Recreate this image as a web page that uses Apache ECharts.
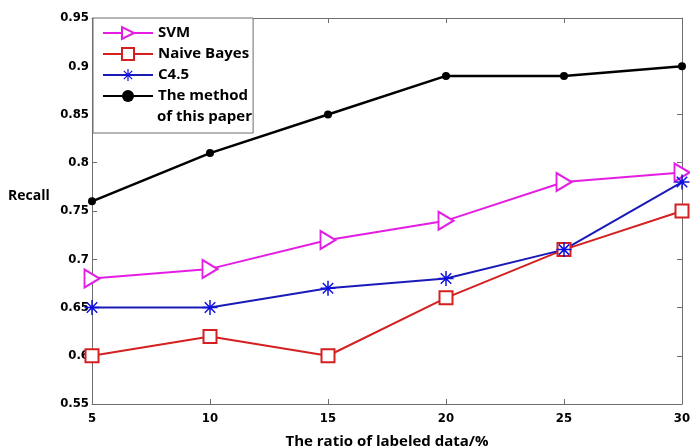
<!DOCTYPE html>
<html><head><meta charset="utf-8">
<script src="https://cdn.jsdelivr.net/npm/echarts@6/dist/echarts.min.js"></script>
<style>html,body{margin:0;padding:0;background:#fff}#c{width:690px;height:448px}</style>
</head><body><div id="c"></div>
<script>
const xValues = [5, 10, 15, 20, 25, 30];
const svm = [0.68, 0.69, 0.72, 0.74, 0.78, 0.79];
const naiveBayes = [0.60, 0.62, 0.60, 0.66, 0.71, 0.75];
const c45 = [0.65, 0.65, 0.67, 0.68, 0.71, 0.78];
const method = [0.76, 0.81, 0.85, 0.89, 0.89, 0.90];
const seriesNames = ['SVM', 'Naive Bayes', 'C4.5', 'The method\nof this paper'];

const asterisk = 'path://M-1,-10L1,-10L1,10L-1,10ZM-10,-1L10,-1L10,1L-10,1ZM-6.3,-7.7L7.7,6.3L6.3,7.7L-7.7,-6.3ZM6.3,-7.7L7.7,-6.3L-6.3,7.7L-7.7,6.3Z';
const pair = arr => xValues.map((x, i) => [x, arr[i]]);
const tickFont = {fontFamily: 'DejaVu Sans Condensed', fontWeight: 'bold', fontSize: 13, color: '#000'};
const legendFont = {fontFamily: 'Open Sans', fontWeight: 'bold', fontSize: 15, color: '#000'};
const axisColor = '#6e6e6e';
const axisLine = {show: true, lineStyle: {color: axisColor, width: 1}};
const tick = {inside: true, length: 5, lineStyle: {color: axisColor}};

const chart = echarts.init(document.getElementById('c'));
chart.setOption({
  animation: false,
  backgroundColor: '#fff',
  grid: {left: 92, right: 8, top: 18, bottom: 44, outerBoundsMode: 'none', containLabel: false},
  title: {text: 'Recall', left: 3, top: 184, textStyle: {fontFamily: 'Open Sans', fontWeight: 'bold', fontSize: 14, color: '#000'}},
  legend: {
    orient: 'vertical', left: 93, top: 18,
    backgroundColor: '#fff', borderColor: axisColor, borderWidth: 1,
    padding: [5, 4, 27, 9], itemGap: 1, itemWidth: 50, itemHeight: 15,
    textStyle: Object.assign({lineHeight: 20}, legendFont),
    formatter: name => name.split('\n')[0],
    data: seriesNames
  },
  graphic: [{
    type: 'text', left: 157, top: 107, z: 100,
    style: Object.assign({text: seriesNames[3].split('\n')[1], lineHeight: 20}, legendFont, {fill: '#000'})
  }],
  xAxis: [{
    type: 'value', min: 5, max: 30, interval: 5,
    name: 'The ratio of labeled data/%', nameLocation: 'middle', nameGap: 30,
    nameTextStyle: {fontFamily: 'Open Sans', fontWeight: 'bold', fontSize: 15, color: '#000'},
    axisLine: axisLine, axisTick: tick,
    axisLabel: Object.assign({margin: 8}, tickFont), splitLine: {show: false}
  }, {
    type: 'value', position: 'top', min: 5, max: 30, interval: 5,
    axisLine: axisLine, axisTick: tick, axisLabel: {show: false}, splitLine: {show: false}
  }],
  yAxis: [{
    type: 'value', min: 0.55, max: 0.95, interval: 0.05,
    axisLine: axisLine, axisTick: tick,
    axisLabel: Object.assign({margin: 3, formatter: v => String(+v.toFixed(2))}, tickFont),
    splitLine: {show: false}
  }, {
    type: 'value', position: 'right', min: 0.55, max: 0.95, interval: 0.05,
    axisLine: axisLine, axisTick: tick, axisLabel: {show: false}, splitLine: {show: false}
  }],
  series: [
    {name: seriesNames[0], type: 'line', data: pair(svm), symbol: 'emptyTriangle', symbolSize: [18, 15], symbolRotate: -90,
     lineStyle: {color: '#e31de3', width: 2}, itemStyle: {color: '#e31de3', borderColor: '#e31de3', borderWidth: 2}},
    {name: seriesNames[1], type: 'line', data: pair(naiveBayes), symbol: 'emptyRect', symbolSize: 13,
     lineStyle: {color: '#d42020', width: 2}, itemStyle: {color: '#d42020', borderColor: '#d42020', borderWidth: 2}},
    {name: seriesNames[2], type: 'line', data: pair(c45), symbol: asterisk, symbolSize: 15,
     lineStyle: {color: '#1a1ab8', width: 2}, itemStyle: {color: '#1010e0'}},
    {name: seriesNames[3], type: 'line', data: pair(method), symbol: 'circle', symbolSize: 8,
     lineStyle: {color: '#000', width: 2.5}, itemStyle: {color: '#000'}}
  ]
});
</script></body></html>
